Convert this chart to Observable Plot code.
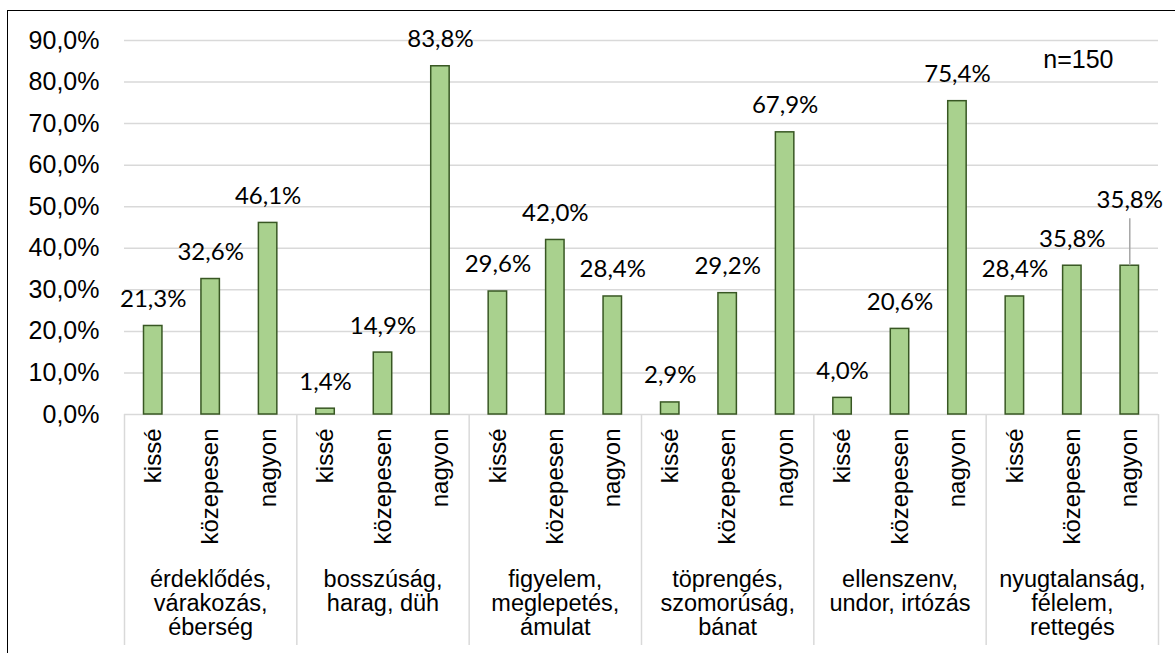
<!DOCTYPE html>
<html><head><meta charset="utf-8">
<script src="https://cdn.jsdelivr.net/npm/d3@7"></script>
<script src="https://cdn.jsdelivr.net/npm/@observablehq/plot@0.6"></script>
<style>
html,body{margin:0;padding:0;background:#fff;overflow:hidden;}
#wrap{position:relative;width:1175px;height:653px;overflow:hidden;}
#border{position:absolute;left:7px;top:10px;width:1200px;height:700px;border:1.5px solid #000;}
#chart{position:absolute;left:0;top:0;}
</style></head><body>
<div id="wrap"><div id="border"></div><div id="chart"></div></div>
<script>
// ---- data ----
const groups = [
  "érdeklődés,\nvárakozás,\néberség",
  "bosszúság,\nharag, düh",
  "figyelem,\nmeglepetés,\námulat",
  "töprengés,\nszomorúság,\nbánat",
  "ellenszenv,\nundor, irtózás",
  "nyugtalanság,\nfélelem,\nrettegés"
];
const levels = ["kissé", "közepesen", "nagyon"];
const kisse     = [21.3, 1.4, 29.6, 2.9, 4.0, 28.4];
const kozepesen = [32.6, 14.9, 42.0, 29.2, 20.6, 35.8];
const nagyon    = [46.1, 83.8, 28.4, 67.9, 75.4, 35.8];
const yTicks = [0, 10, 20, 30, 40, 50, 60, 70, 80, 90];
const note = "n=150";
const movedLabel = {group: 5, level: 2}; // label moved up with leader line

const series = [kisse, kozepesen, nagyon];
const data = [];
groups.forEach((g, gi) => levels.forEach((l, li) => {
  data.push({group: g, gi, level: l, li, pos: gi * 3 + li, value: series[li][gi]});
}));
const isMoved = d => d.gi === movedLabel.group && d.li === movedLabel.level;
const groupData = groups.map((g, gi) => ({text: g, gi}));
const separators = d3.range(0, groups.length * 3 + 1, 3);
const pct = v => v.toFixed(1).replace(".", ",") + "%";

const TXT = "Liberation Sans, Arial, sans-serif";
const LBL = "Lato, Carlito, Calibri, sans-serif";

const chart = Plot.plot({
  width: 1175, height: 653,
  marginLeft: 124, marginRight: 17, marginTop: 40, marginBottom: 239,
  style: {background: "transparent", color: "#000"},
  x: {domain: [0, groups.length * 3], axis: null},
  y: {domain: [0, 90], axis: null},
  marks: [
    Plot.ruleY(yTicks, {stroke: "#d9d9d9", strokeWidth: 1.5}),
    Plot.ruleX(separators, {x: d => d, y1: () => 0, y2: () => 0, insetBottom: -231, stroke: "#d9d9d9", strokeWidth: 1.5}),
    Plot.axisY({ticks: yTicks, tickFormat: pct, tickSize: 0, tickPadding: 25, fontSize: 25, fontFamily: TXT, label: null}),
    Plot.rect(data, {x1: d => d.pos, x2: d => d.pos + 1, y1: () => 0, y2: "value",
      insetLeft: 19.5, insetRight: 19.5, fill: "#a9d18e", stroke: "#385723", strokeWidth: 1.5}),
    Plot.text(data.filter(d => !isMoved(d)), {x: d => d.pos + 0.5, y: "value", text: d => pct(d.value),
      lineAnchor: "bottom", dy: -19, fontSize: 24, fontFamily: LBL, fill: "#000"}),
    Plot.ruleX(data.filter(isMoved), {x: d => d.pos + 0.5, y1: "value", y2: "value", insetTop: -47, stroke: "#a6a6a6", strokeWidth: 1.5}),
    Plot.text(data.filter(isMoved), {x: d => d.pos + 0.5, y: "value", text: d => pct(d.value),
      lineAnchor: "bottom", dy: -58, fontSize: 24, fontFamily: LBL, fill: "#000"}),
    Plot.text(data, {x: d => d.pos + 0.5, y: () => 0, text: "level", rotate: -90, textAnchor: "end",
      dy: 14, fontSize: 24, fontFamily: TXT, fill: "#000"}),
    Plot.text(groupData, {x: d => d.gi * 3 + 1.5, y: () => 0, text: "text", lineAnchor: "top",
      dy: 155, lineHeight: 1.03, fontSize: 23.5, fontFamily: TXT, fill: "#000"}),
    Plot.text([note], {frameAnchor: "top-right", text: d => d, textAnchor: "end", lineAnchor: "bottom",
      dx: -45, dy: 27, fontSize: 25, fontFamily: TXT, fill: "#000"})
  ]
});
document.getElementById("chart").appendChild(chart);
</script>
</body></html>
